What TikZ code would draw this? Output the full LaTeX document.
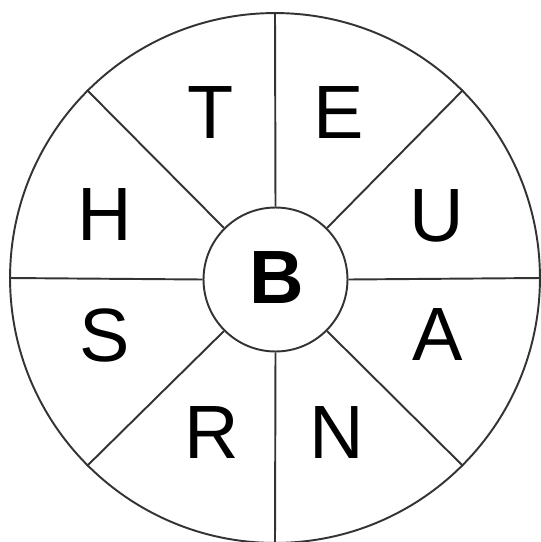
\documentclass[tikz,border=0pt]{standalone}
\usepackage{fontspec}
\setmainfont{Liberation Sans}
\usetikzlibrary{positioning}

\begin{document}
\begin{tikzpicture}[x=0.02cm,y=-0.02cm,
    ring/.style={circle,draw=black!80,line width=1.1pt,inner sep=0pt},
    letter/.style={font=\fontsize{43}{43}\selectfont,text height=30.8pt,text depth=0pt,inner sep=0pt}]
            \useasboundingbox (0,0) rectangle (541,542);
            \node[ring,minimum size=10.6cm](outer) at (275,278) {};
            \node[ring,fill=white,minimum size=2.88cm](hub) at (275.5,279.5) {};
            \foreach \a in {0,45,...,315}
                \draw[black!80,line width=1.1pt] (hub.\a) -- (outer.\a);
            \node[letter,font=\fontsize{43}{43}\selectfont\bfseries](b) at (276.5,276) {B};
            \node[letter](t) at (211,111.5) {T};
            \node[letter](e) at (339,111.5) {E};
            \node[letter](u) at (436.5,214) {U};
            \node[letter](a) at (438,333.5) {A};
            \node[letter](n) at (337,431.5) {N};
            \node[letter](r) at (212,431.5) {R};
            \node[letter](s) at (105,334) {S};
            \node[letter](h) at (105,213.5) {H};
        \end{tikzpicture}
\end{document}
